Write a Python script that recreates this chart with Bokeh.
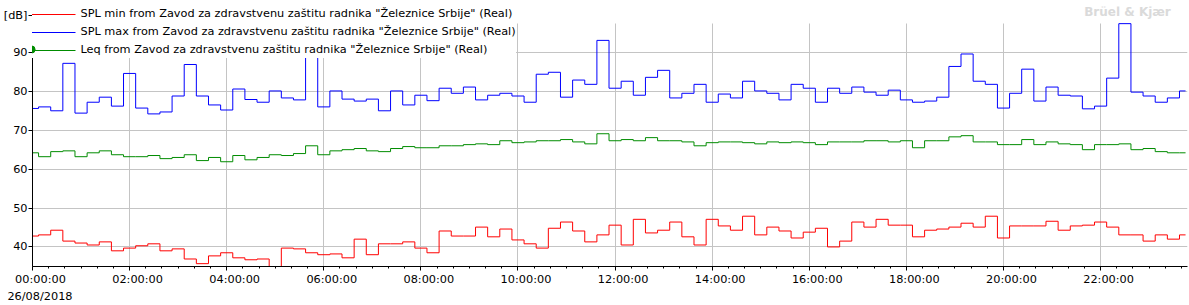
from bokeh.plotting import figure
from bokeh.models import (Range1d, FixedTicker, Legend, LegendItem, Label,
                          LinearAxis, ColumnDataSource)
from bokeh.embed import file_html
from bokeh.resources import INLINE
import numpy as np

# ---- data (15-minute intervals, 26/08/2018) ----
hours = [k * 0.25 for k in range(96)]

spl_min = [42.8, 43.1, 44.3, 41.5, 41.0, 40.5, 41.3, 39.0, 39.7, 40.3,
           40.8, 39.0, 39.5, 36.9, 35.7, 37.7, 38.5, 37.2, 36.7, 36.9,
           34.5, 39.7, 39.5, 38.5, 38.0, 38.2, 37.2, 42.0, 38.0, 40.8,
           40.8, 41.3, 39.7, 38.5, 44.1, 42.8, 42.8, 45.1, 42.6, 44.6,
           41.8, 40.8, 39.7, 44.8, 46.4, 44.1, 41.3, 43.1, 45.6, 40.5,
           47.1, 43.6, 44.3, 46.4, 42.6, 40.5, 47.1, 45.4, 44.3, 47.9,
           43.1, 45.1, 44.1, 42.3, 43.8, 44.8, 40.0, 41.5, 46.4, 45.1,
           47.1, 45.6, 45.6, 42.6, 44.3, 44.6, 45.1, 46.1, 45.1, 47.9,
           42.3, 45.4, 45.4, 45.4, 46.6, 44.3, 45.4, 45.6, 46.4, 45.1,
           43.1, 43.1, 41.5, 43.1, 42.0, 43.1]

spl_max = [75.6, 76.0, 75.0, 87.2, 74.4, 77.2, 78.5, 76.2, 84.6, 75.7,
           74.2, 74.7, 78.8, 86.9, 78.8, 76.5, 75.2, 80.6, 77.9, 77.2,
           80.1, 78.3, 77.8, 92.0, 76.0, 80.1, 78.0, 77.5, 78.0, 75.0,
           80.1, 76.5, 79.0, 77.6, 80.8, 79.5, 81.1, 77.8, 79.0, 79.5,
           78.8, 77.2, 84.4, 84.9, 78.5, 82.9, 81.8, 93.1, 80.8, 82.6,
           79.0, 83.6, 85.4, 78.3, 79.5, 81.8, 77.2, 79.3, 78.3, 82.6,
           80.1, 79.5, 77.8, 81.8, 80.8, 77.2, 80.8, 79.5, 81.1, 79.8,
           79.0, 80.3, 77.8, 77.2, 77.5, 78.5, 86.4, 89.6, 82.6, 81.8,
           75.7, 79.5, 85.7, 77.5, 81.1, 79.0, 78.8, 75.5, 76.2, 83.4,
           97.4, 79.8, 78.8, 77.2, 78.3, 80.1]

leq = [64.2, 63.2, 64.5, 64.7, 63.2, 64.2, 64.7, 63.7, 63.2, 63.2,
       63.5, 62.7, 63.0, 63.7, 62.2, 63.0, 61.9, 63.5, 62.4, 63.0,
       63.7, 63.5, 64.0, 66.0, 63.7, 64.7, 65.0, 65.3, 64.7, 64.5,
       65.3, 65.8, 65.5, 65.5, 66.0, 66.0, 66.3, 66.5, 66.3, 67.3,
       66.8, 67.0, 67.3, 67.3, 67.6, 67.0, 66.5, 69.1, 67.3, 67.6,
       67.3, 68.1, 67.3, 67.3, 67.0, 66.0, 66.8, 67.0, 67.0, 66.8,
       66.5, 67.0, 66.8, 67.0, 66.8, 66.3, 67.0, 67.0, 67.0, 67.3,
       67.3, 67.0, 67.3, 65.5, 67.3, 67.3, 68.3, 68.6, 67.0, 67.0,
       66.3, 66.3, 67.6, 66.3, 67.0, 66.5, 66.3, 65.0, 66.3, 66.3,
       66.5, 65.0, 65.3, 64.5, 64.2, 64.2]

x_tick_hours = [0, 2, 4, 6, 8, 10, 12, 14, 16, 18, 20, 22]
x_tick_labels = ["00:00:00", "02:00:00", "04:00:00", "06:00:00", "08:00:00",
                 "10:00:00", "12:00:00", "14:00:00", "16:00:00", "18:00:00",
                 "20:00:00", "22:00:00"]
y_ticks = [40, 50, 60, 70, 80, 90]
unit_label = "[dB]"
unit_pos = 99.5
date_label = "26/08/2018"
names = ['SPL min from Zavod za zdravstvenu zaštitu radnika "Železnice Srbije" (Real)',
         'SPL max from Zavod za zdravstvenu zaštitu radnika "Železnice Srbije" (Real)',
         'Leq from Zavod za zdravstvenu zaštitu radnika "Železnice Srbije" (Real)']

FONT = "DejaVu Sans"
FS = "11.3px"
RED, BLUE, GREEN = "#ff0000", "#0000ff", "#008c00"
COLORS = [RED, BLUE, GREEN]
GRID = "#c4c4c4"

X_END = 23.79
Y0, Y1 = 34.97, 101.81
p = figure(width=1189, height=305, output_backend="svg", toolbar_location=None,
           title=None, x_range=Range1d(0, X_END), y_range=Range1d(Y0, Y1),
           min_border_left=29, min_border_right=2, min_border_top=6,
           min_border_bottom=37)
p.outline_line_color = None
p.background_fill_color = "white"
p.border_fill_color = "white"

r_min = p.step(hours, spl_min, mode="center", line_color=RED, line_width=1)
r_max = p.step(hours, spl_max, mode="center", line_color=BLUE, line_width=1)
r_leq = p.step(hours, leq, mode="center", line_color=GREEN, line_width=1)

# legend proxies (drawn only in the legend; empty NaN data)
q_src = ColumnDataSource(dict(l=[np.nan], r=[np.nan], t=[np.nan], b=[np.nan]))
txt_proxy = p.quad(left="l", right="r", top="t", bottom="b", source=q_src,
                   fill_alpha=0, line_alpha=0)
nan_src = ColumnDataSource(dict(x=[np.nan], y=[np.nan]))
dash_proxies = [p.scatter(x="x", y="y", source=nan_src, marker="dash", size=44,
                          line_color=c, line_width=1) for c in COLORS]
r_dot = p.scatter(x="x", y="y", source=nan_src, size=7, fill_color=GREEN, line_color=GREEN)

px_per_hour = 1158 / X_END

# ---- x axis: ticks on the main axis ----
xa = p.xaxis[0]
xa.ticker = FixedTicker(ticks=x_tick_hours,
                        minor_ticks=list(np.arange(0, X_END, 1 / 3)))
xa.major_label_overrides = {h: "" for h in x_tick_hours}
xa.major_label_text_font_size = "1px"
xa.major_label_standoff = 0
xa.major_tick_out = 4
xa.major_tick_in = 0
xa.minor_tick_out = 2
xa.minor_tick_in = 0
xa.axis_line_color = "black"

# tick labels on a second axis, shifted 8 px right (as in the original)
shift = 8 / px_per_hour
p.extra_x_ranges = {"lbl": Range1d(-shift, X_END - shift)}
xl = LinearAxis(x_range_name="lbl", ticker=FixedTicker(ticks=x_tick_hours),
                major_label_overrides={h: t for h, t in zip(x_tick_hours, x_tick_labels)})
# date below the first label
date_pos = 7.5 / px_per_hour
xd = LinearAxis(ticker=FixedTicker(ticks=[date_pos]),
                major_label_overrides={date_pos: date_label})
for ax, standoff in ((xl, 2), (xd, 1)):
    ax.axis_line_color = None
    ax.major_tick_line_color = None
    ax.minor_tick_line_color = None
    ax.major_tick_out = 0
    ax.major_tick_in = 0
    ax.minor_tick_out = 0
    ax.major_label_standoff = standoff
    ax.major_label_text_font = FONT
    ax.major_label_text_font_size = FS
    ax.major_label_text_color = "black"
    p.add_layout(ax, "below")

# ---- y axis ----
ya = p.yaxis[0]
ya.ticker = FixedTicker(ticks=y_ticks + [unit_pos])
ya.major_label_overrides = {unit_pos: unit_label}
ya.major_tick_out = 4
ya.major_tick_in = 0
ya.minor_tick_line_color = None
ya.major_label_standoff = 1
ya.major_label_text_font = FONT
ya.major_label_text_font_size = FS
ya.major_label_text_color = "black"
ya.axis_line_color = "black"

for g in (p.xgrid[0], p.ygrid[0]):
    g.grid_line_color = GRID
p.xgrid[0].ticker = FixedTicker(ticks=x_tick_hours)
p.ygrid[0].ticker = FixedTicker(ticks=y_ticks)
if "cross_bounds" in p.xgrid[0].properties():
    p.xgrid[0].cross_bounds = (Y0, max(spl_max))

p.add_layout(Label(x=1095, y=254.5, x_units="screen", y_units="screen", text="Brüel & Kjær",
                   text_align="center", text_baseline="middle",
                   text_font=FONT, text_font_size="12px", text_font_style="bold",
                   text_color="#dadada"))

# legend text (white box)
legend = Legend(items=[LegendItem(label=n, renderers=[txt_proxy]) for n in names],
                location=(-0.5, 208), orientation="vertical",
                padding=0, margin=0, spacing=0,
                label_height=18, glyph_height=18, glyph_width=44, label_standoff=5,
                label_text_font=FONT, label_text_font_size=FS, label_text_color="black",
                background_fill_color="white", background_fill_alpha=1.0,
                border_line_color=None)
p.add_layout(legend)

# coloured legend lines: one dash marker per row (marker length = 0.4 * box)
for i, q in enumerate(dash_proxies):
    p.add_layout(Legend(items=[LegendItem(label=" ", renderers=[q])],
                        location=(-34, 197.5 - 18 * i), padding=0, margin=0, spacing=0,
                        label_height=1, glyph_height=110, glyph_width=110,
                        label_standoff=0, label_text_font_size="1px",
                        background_fill_alpha=0.0, border_line_color=None))

legend_dot = Legend(items=[LegendItem(label=" ", renderers=[r_dot])],
                    location=(-10, 208), padding=0, margin=0, spacing=0,
                    label_height=18, glyph_height=18, glyph_width=18, label_standoff=0,
                    label_text_font_size=FS,
                    background_fill_alpha=0.0, border_line_color=None)
p.add_layout(legend_dot)

open("out.html", "w").write(file_html(p, INLINE))
